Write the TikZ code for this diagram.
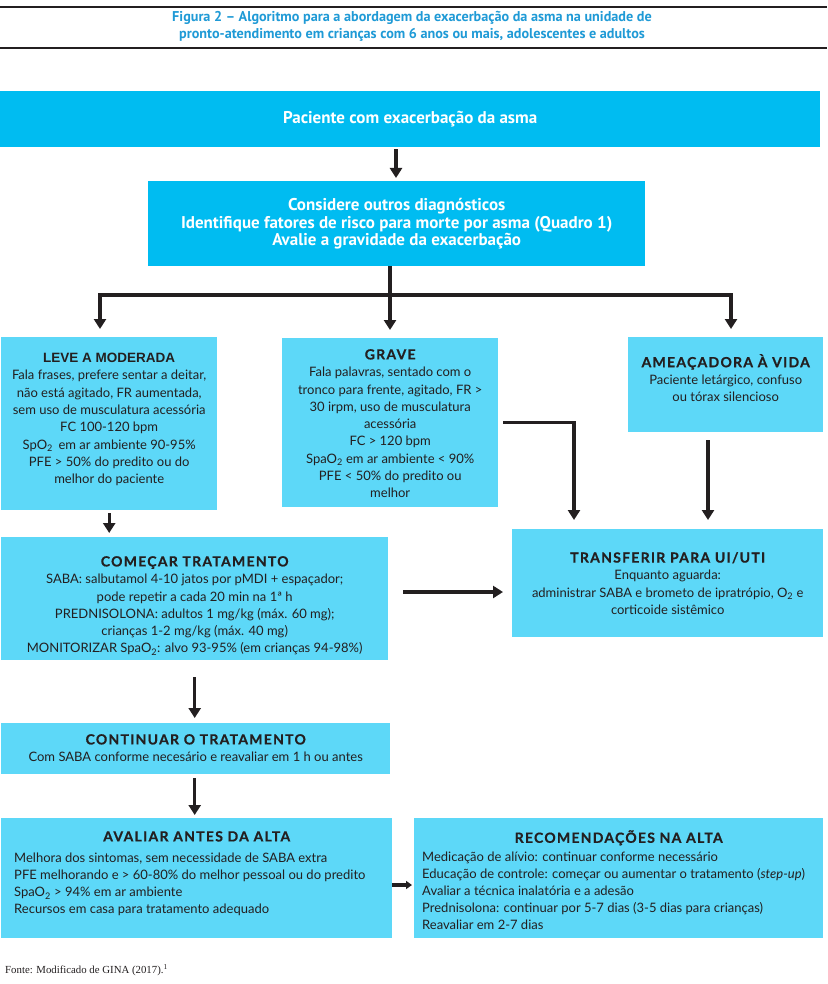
\documentclass[tikz,border=0pt]{standalone}
\usepackage{fontspec}
\setmainfont{Lato}
\newfontfamily\condf{PT Sans}
\newfontfamily\headf[LetterSpace=9, BoldFeatures={FakeBold=0.6}]{Lato}
\newfontfamily\arialf{Liberation Sans}
\newfontfamily\serf{Liberation Serif}
\usetikzlibrary{arrows.meta,calc}
\definecolor{cyanA}{HTML}{00BCF1}
\definecolor{cyanB}{HTML}{5DD8F8}
\definecolor{inkc}{HTML}{231F20}
\definecolor{titlec}{HTML}{1F9AD6}
\newcommand\hd[1]{{\headf\bfseries\fontsize{14}{17}\selectfont #1}}
\newcommand\sub[1]{\textsubscript{#1}}
\begin{document}
\begin{tikzpicture}[x=1pt,y=-1pt,
  boxA/.style={fill=cyanA, inner sep=0pt, anchor=north west, text=white, align=center,
     font=\condf\bfseries\fontsize{17}{17.5}\selectfont},
  boxB/.style={fill=cyanB, inner sep=0pt, anchor=north west},
  txt/.style={inner sep=0pt, text=inkc, align=center, font=\fontsize{13}{17.3}\selectfont},
  txtl/.style={inner sep=0pt, text=inkc, align=left, font=\fontsize{13}{17}\selectfont},
  arr/.style={draw=inkc, line width=3.2pt, -{Triangle[width=12pt,length=10pt]}},
  rulel/.style={draw=inkc, line width=2.5pt}]
\useasboundingbox (0,0) rectangle (827,984);
\fill[white] (0,0) rectangle (827,984);
% header rules and title
\draw[rulel] (0,7) -- (827,7);
\draw[rulel] (0,48) -- (827,48);
\node[inner sep=0pt, text=titlec, align=center, font=\condf\bfseries\fontsize{14.2}{17}\selectfont] (title) at (412,26)
 {Figura 2 – Algoritmo para a abordagem da exacerbação da asma na unidade de\\
  pronto-atendimento em crianças com 6 anos ou mais, adolescentes e adultos};
% boxes
\node[boxA, minimum width=820pt, minimum height=56pt] (b1) at (0,91) {Paciente com exacerbação da asma};
\node[boxA, minimum width=497pt, minimum height=85pt] (b2) at (148,181)
 {Considere outros diagnósticos\\ Identifique fatores de risco para morte por asma (Quadro 1)\\ Avalie a gravidade da exacerbação};
\node[boxB, minimum width=216pt, minimum height=173pt] (leve) at (1,337) {};
\node[boxB, minimum width=216pt, minimum height=169pt] (grave) at (282,338) {};
\node[boxB, minimum width=195pt, minimum height=95pt] (amea) at (628,337) {};
\node[boxB, minimum width=387pt, minimum height=123pt] (come) at (1,537) {};
\node[boxB, minimum width=311pt, minimum height=108pt] (trans) at (512,529) {};
\node[boxB, minimum width=389pt, minimum height=51pt] (cont) at (1,723) {};
\node[boxB, minimum width=391pt, minimum height=120pt] (aval) at (1,818) {};
\node[boxB, minimum width=409pt, minimum height=120pt] (recom) at (414,818) {};
% texts
\node[txt, anchor=north] (leve-t) at ([yshift=-16pt]leve.north)
 {{\arialf\bfseries\fontsize{13.5}{17}\selectfont LEVE A MODERADA}\\
  Fala frases, prefere sentar a deitar,\\ não está agitado, FR aumentada,\\
  sem uso de musculatura acessória\\ FC 100-120 bpm\\ SpO\sub{2}\, em ar ambiente 90-95\%\\
  PFE > 50\% do predito ou do\\ melhor do paciente};
\node[txt, anchor=north] (grave-t) at ([yshift=-11pt]grave.north)
 {\hd{GRAVE}\\ Fala palavras, sentado com o\\ tronco para frente, agitado, FR >\\
  30 irpm, uso de musculatura\\ acessória\\ FC > 120 bpm\\ SpaO\sub{2} em ar ambiente < 90\%\\
  PFE < 50\% do predito ou\\ melhor};
\node[txt, anchor=north] (amea-t) at ([yshift=-17pt]amea.north)
 {\hd{AMEAÇADORA À VIDA}\\ Paciente letárgico, confuso\\ ou tórax silencioso};
\node[txt, anchor=north] (come-t) at ([yshift=-19pt]come.north)
 {\hd{COMEÇAR TRATAMENTO}\\ SABA: salbutamol 4-10 jatos por pMDI + espaçador;\\
  pode repetir a cada 20 min na 1ª h\\ PREDNISOLONA: adultos 1 mg/kg (máx. 60 mg);\\
  crianças 1-2 mg/kg (máx. 40 mg)\\ MONITORIZAR SpaO\sub{2}: alvo 93-95\% (em crianças 94-98\%)};
\node[txt, anchor=north] (trans-t) at ([yshift=-23pt]trans.north)
 {\hd{TRANSFERIR PARA UI/UTI}\\ Enquanto aguarda:\\
  administrar SABA e brometo de ipratrópio, O\sub{2} e\\ corticoide sistêmico};
\node[txt, anchor=north] (cont-t) at ([yshift=-11pt]cont.north)
 {\hd{CONTINUAR O TRATAMENTO}\\ Com SABA conforme necesário e reavaliar em 1 h ou antes};
\node[txt, anchor=north] (aval-h) at ([yshift=-13pt]aval.north) {\hd{AVALIAR ANTES DA ALTA}};
\node[txtl, anchor=north west] (aval-t) at (14,853)
 {Melhora dos sintomas, sem necessidade de SABA extra\\
  PFE melhorando e > 60-80\% do melhor pessoal ou do predito\\
  SpaO\sub{2} > 94\% em ar ambiente\\ Recursos em casa para tratamento adequado};
\node[txt, anchor=north] (recom-h) at ([yshift=-12pt]recom.north) {\hd{RECOMENDAÇÕES NA ALTA}};
\node[txtl, anchor=north west] (recom-t) at (422,852)
 {Medicação de alívio: continuar conforme necessário\\
  Educação de controle: começar ou aumentar o tratamento (\textit{step-up})\\
  Avaliar a técnica inalatória e a adesão\\
  Prednisolona: continuar por 5-7 dias (3-5 dias para crianças)\\
  Reavaliar em 2-7 dias};
\node[inner sep=0pt, anchor=west, text=inkc, font=\serf\fontsize{10.8}{13}\selectfont] (fonte) at (5,970)
 {Fonte: Modificado de GINA (2017).\textsuperscript{1}};
% helper coordinates
\coordinate (x1) at (396,0);
\coordinate (jL) at (100,295);
\coordinate (jM) at (390,295);
\coordinate (jR) at (731,295);
\coordinate (gx) at (574,0);
\coordinate (ax) at (708,0);
\coordinate (cy) at (0,592);
\coordinate (ry) at (0,885);
% connectors
\draw[arr, shorten <=2pt, shorten >=3pt] (b1.south -| x1) -- (b2.north -| x1);
\draw[arr, shorten >=8pt] (b2.south -| jM) -- (grave.north -| jM);
\draw[arr, shorten >=8pt] (jM) -| (leve.north -| jL);
\draw[arr, shorten >=8pt] (jM) -| (amea.north -| jR);
\draw[arr, shorten <=3pt, shorten >=4pt] (leve.south) -- (leve.south |- come.north);
\draw[arr, shorten <=5pt, shorten >=9pt] (grave.east) -| (trans.north -| gx);
\draw[arr, shorten <=8pt, shorten >=9pt] (amea.south -| ax) -- (trans.north -| ax);
\draw[arr, shorten <=15pt, shorten >=9pt] (come.east |- cy) -- (trans.west |- cy);
\draw[arr, shorten <=17pt, shorten >=5pt] (come.south) -- (come.south |- cont.north);
\draw[arr, shorten <=4pt, shorten >=3pt] (cont.south -| come.south) -- (aval.north -| come.south);
\draw[arr, -{Triangle[width=8pt,length=6pt]}, shorten >=2pt] (aval.east |- ry) -- (recom.west |- ry);
\end{tikzpicture}
\end{document}
